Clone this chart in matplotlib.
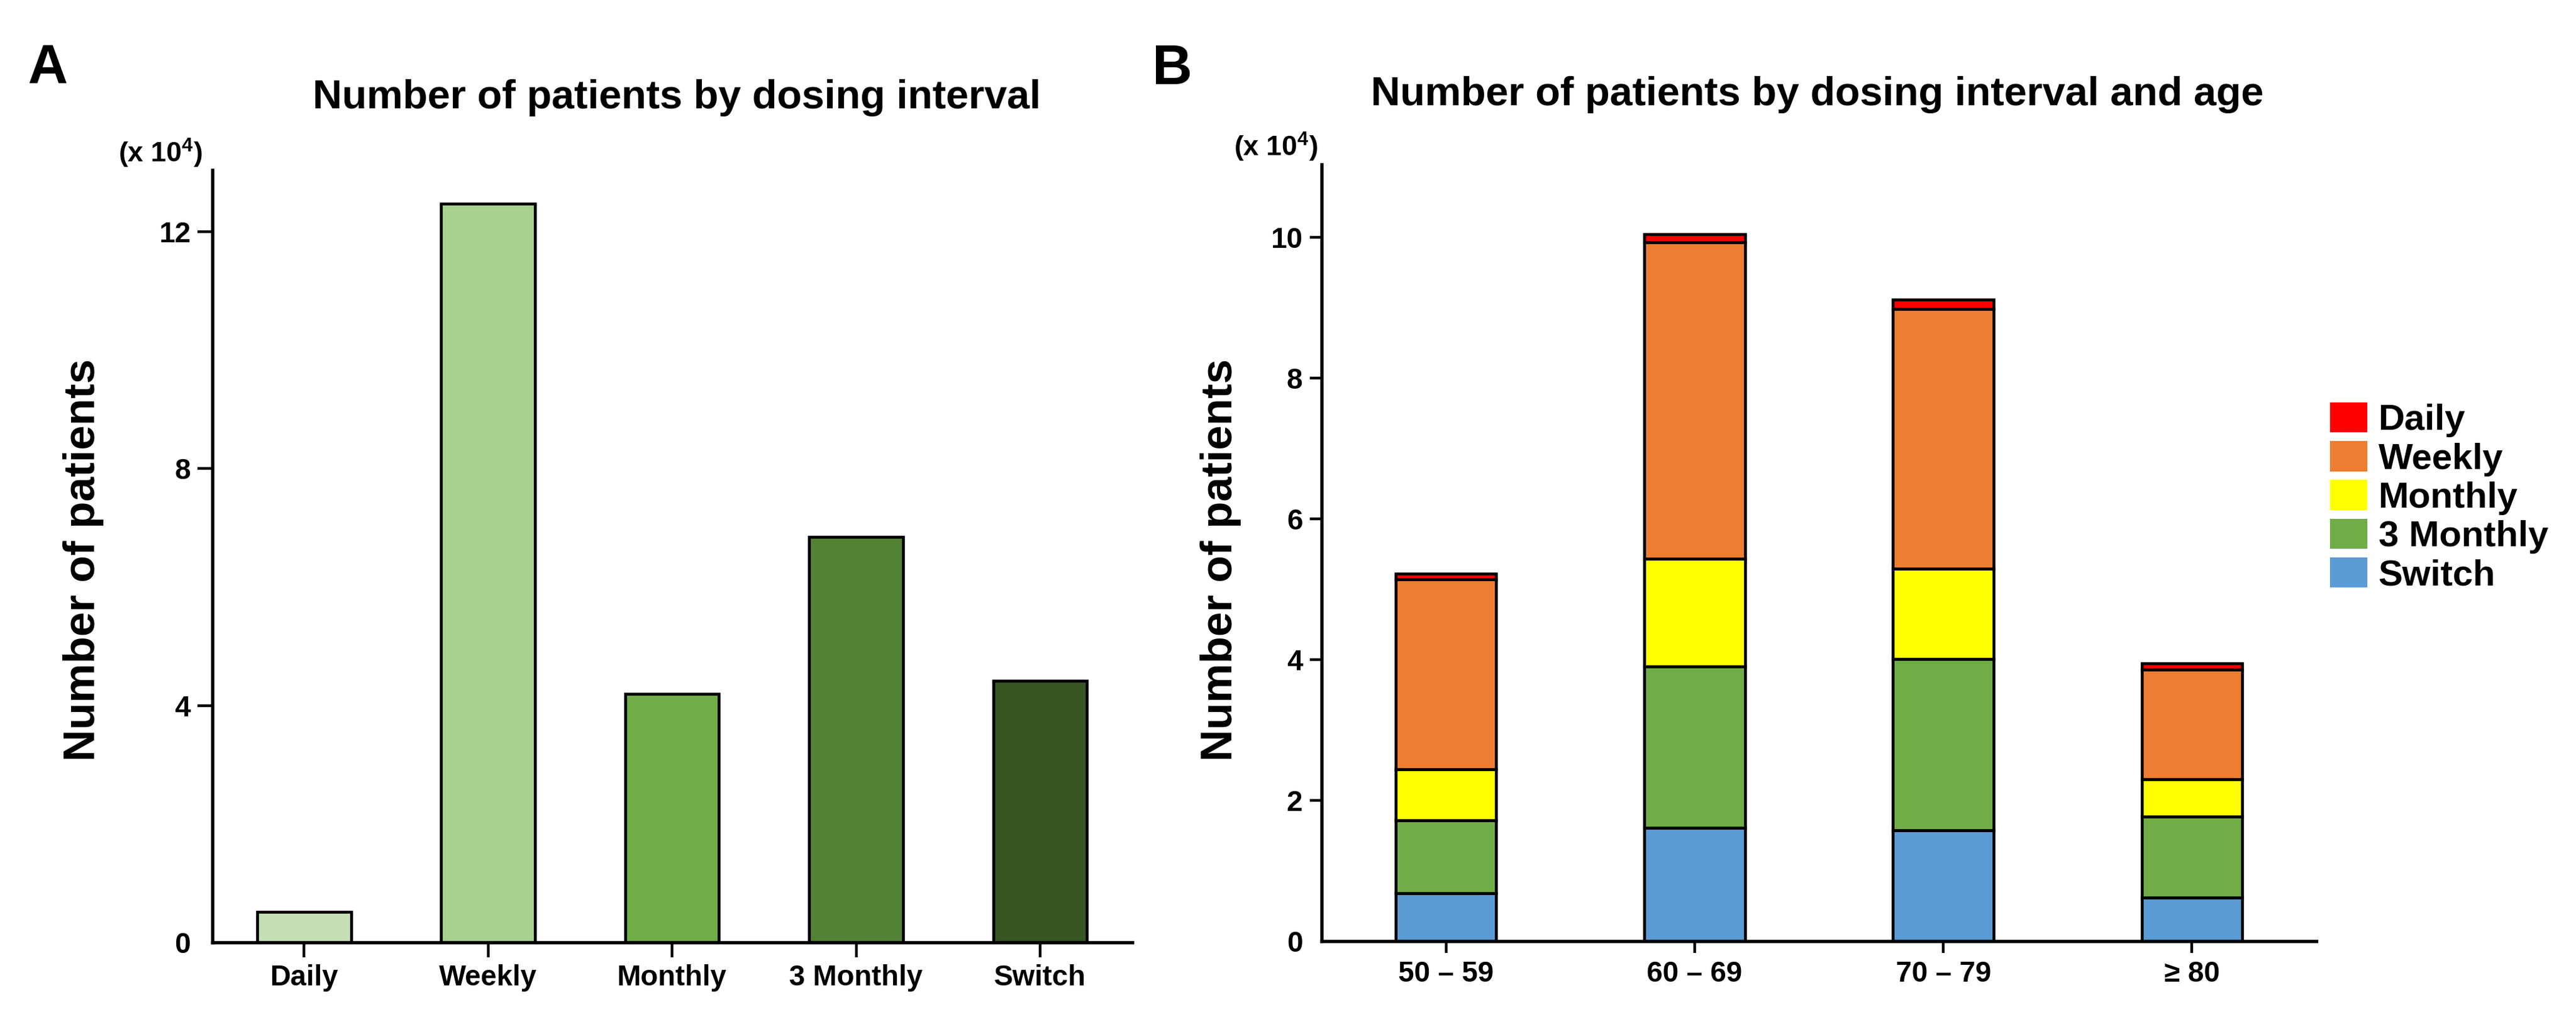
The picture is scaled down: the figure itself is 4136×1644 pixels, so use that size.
import matplotlib
matplotlib.use('Agg')
import matplotlib.pyplot as plt
from matplotlib.patches import Patch

plt.rcParams['font.family'] = ['Liberation Sans', 'DejaVu Sans']
plt.rcParams['font.weight'] = 'bold'
plt.rcParams['mathtext.fontset'] = 'custom'
plt.rcParams['mathtext.rm'] = 'Liberation Sans:bold'
plt.rcParams['mathtext.bf'] = 'Liberation Sans:bold'

# panel A: patients by dosing interval (x 10^4)
intervals = ['Daily', 'Weekly', 'Monthly', '3 Monthly', 'Switch']
patients_total = [0.51, 12.47, 4.19, 6.84, 4.42]
green_shades = ['#C5E0B4', '#A9D18E', '#70AD47', '#548235', '#375623']

# panel B: patients by dosing interval and age (x 10^4)
age_groups = ['50 – 59', '60 – 69', '70 – 79', '≥ 80']
switch = [0.68, 1.61, 1.58, 0.62]
three_monthly = [1.04, 2.29, 2.43, 1.15]
monthly = [0.72, 1.54, 1.28, 0.53]
weekly = [2.70, 4.49, 3.70, 1.56]
daily = [0.08, 0.12, 0.13, 0.09]

stack_names = ['Switch', '3 Monthly', 'Monthly', 'Weekly', 'Daily']
stack_values = [switch, three_monthly, monthly, weekly, daily]
stack_colors = ['#5B9BD5', '#70AD47', '#FFFF00', '#ED7D31', '#FF0000']

W, H = 4136, 1644
fig = plt.figure(figsize=(W / 100, H / 100), dpi=100)

axA = fig.add_axes([340.6 / W, 131 / H, 1477 / W, 1240.4 / H])
axB = fig.add_axes([2122 / W, 133 / H, 1597 / W, 1247 / H])

bar_lw = 3.3

# panel A
axA.bar(range(len(intervals)), patients_total, width=0.51, color=green_shades,
        edgecolor='black', linewidth=bar_lw)
axA.set_xlim(-0.5, 4.5)
axA.set_ylim(0, 13.04)
axA.set_yticks([0, 4, 8, 12])
axA.set_xticks(range(len(intervals)))
axA.set_xticklabels(intervals)
axA.tick_params(axis='both', width=3.2, length=17, labelsize=33, pad=8)

# panel B - stacked from the bottom up
x = range(len(age_groups))
bottom = [0.0] * len(age_groups)
for name, vals, col in zip(stack_names, stack_values, stack_colors):
    axB.bar(x, vals, bottom=bottom, width=0.405, color=col,
            edgecolor='black', linewidth=bar_lw)
    bottom = [b + v for b, v in zip(bottom, vals)]
axB.set_xlim(-0.5, 3.5)
axB.set_ylim(0, 11.04)
axB.set_yticks([0, 2, 4, 6, 8, 10])
axB.set_xticks(list(x))
axB.set_xticklabels(age_groups)
axB.tick_params(axis='both', width=3.2, length=14, labelsize=33, pad=8)

for ax in (axA, axB):
    for s in ('top', 'right'):
        ax.spines[s].set_visible(False)
    for s in ('left', 'bottom'):
        ax.spines[s].set_linewidth(3.9)
    # no tick mark at zero
    ax.yaxis.get_major_ticks()[0].tick1line.set_visible(False)

# legend for panel B (top to bottom: Daily ... Switch)
handles = [Patch(facecolor=c, edgecolor='none', label=n)
           for n, c in zip(stack_names[::-1], stack_colors[::-1])]
fig.legend(handles=handles, loc='upper left',
           bbox_to_anchor=(3741 / W, 1 - 646 / H), frameon=False,
           fontsize=42, handlelength=1.03, handleheight=0.9,
           handletextpad=0.3, labelspacing=0.1, borderpad=0,
           borderaxespad=0)

# titles, labels, panel letters
fig.text(1087 / W, 1 - 157 / H, 'Number of patients by dosing interval',
         fontsize=47, ha='center', va='center')
fig.text(2918 / W, 1 - 152 / H, 'Number of patients by dosing interval and age',
         fontsize=47, ha='center', va='center')
fig.text(134 / W, 1 - 899 / H, 'Number of patients', fontsize=51,
         rotation=90, ha='center', va='center')
fig.text(1960 / W, 1 - 899 / H, 'Number of patients', fontsize=51,
         rotation=90, ha='center', va='center')
fig.text(325 / W, 1 - 246 / H, r'(x 10$^{4}$)', fontsize=32, ha='right', va='center')
fig.text(2116 / W, 1 - 236 / H, r'(x 10$^{4}$)', fontsize=32, ha='right', va='center')
fig.text(45 / W, 1 - 70 / H, 'A', fontsize=64, ha='left', va='top')
fig.text(1850 / W, 1 - 70 / H, 'B', fontsize=64, ha='left', va='top')

fig.savefig('out.png', dpi=100)
